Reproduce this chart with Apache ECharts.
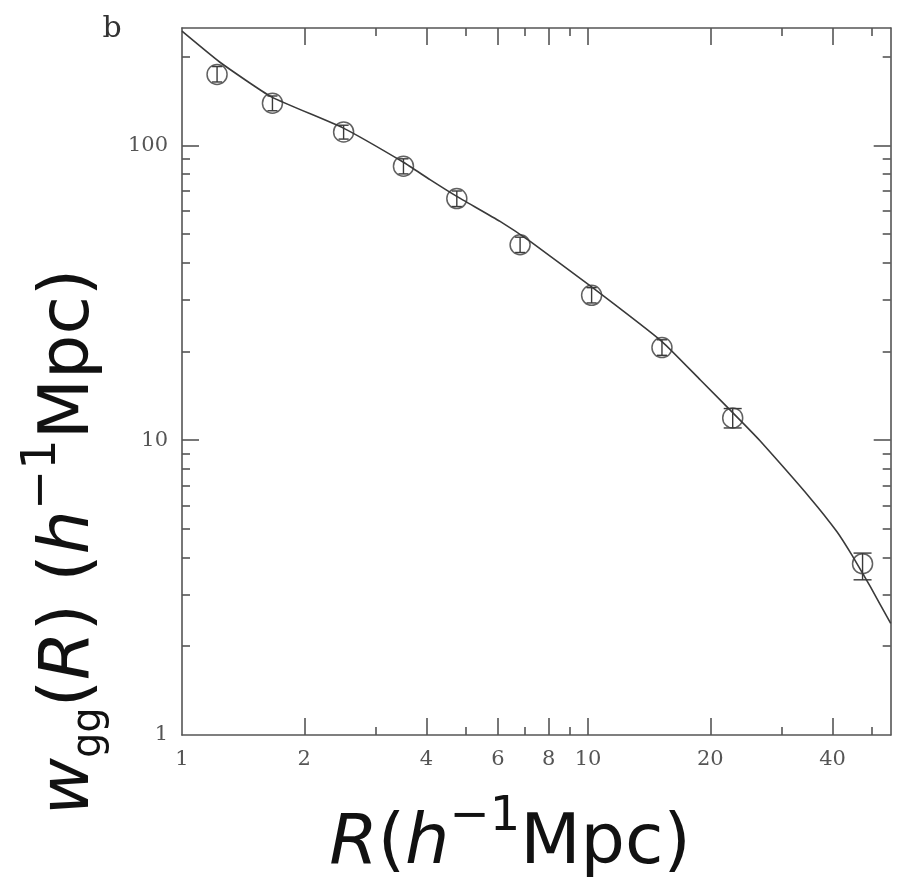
<!DOCTYPE html>
<html>
<head>
<meta charset="utf-8">
<script src="https://cdn.jsdelivr.net/npm/echarts@6/dist/echarts.min.js"></script>
<style>
  html, body { margin: 0; padding: 0; background: #fff; }
  #chart { width: 899px; height: 885px; }
</style>
</head>
<body>
<div id="chart"></div>
<script>
// Projected galaxy correlation function w_gg(R): measurements with errors and the model curve

// Measured points
const rObs  = [1.22, 1.67, 2.50, 3.51, 4.75, 6.80, 10.2, 15.2, 22.7, 47.4];
const wObs  = [174, 139, 111, 85, 66, 46, 31, 20.6, 11.9, 3.81];
const wLow  = [164, 131, 105, 80, 62, 43.3, 29.2, 19.4, 11.0, 3.36];
const wHigh = [185, 147, 117, 90, 70, 48.8, 32.9, 21.9, 12.8, 4.14];

// Model curve
const rModel = [1.0, 1.24, 1.66, 2.49, 3.51, 4.08, 4.75, 6.07, 7.20, 10.2, 15.2, 18.9, 24.1, 26.5, 35.2, 41.0, 44.6, 49.5, 55.6];
const wModel = [243.8, 191.3, 146.0, 114.6, 87.6, 76.5, 67.1, 55.2, 47.2, 33.1, 21.6, 16.0, 11.4, 9.95, 6.37, 4.89, 4.08, 3.19, 2.39];

// Axis ranges, ticks and tick labels
const xRange = [1, 55.6];
const yRange = [1, 250];
const xMajorTicks = [2, 4, 6, 8, 10, 20, 40];
const xMinorTicks = [3, 5, 7, 9, 30, 50];
const xTickLabels = [1, 2, 4, 6, 8, 10, 20, 40];
const yMajorTicks = [10, 100];
const yMinorTicks = [2, 3, 4, 5, 6, 7, 8, 9, 20, 30, 40, 50, 60, 70, 80, 90, 200];
const yTickLabels = [1, 10, 100];

const INK = '#3a3a3a';
const FRAME = '#555';
const labelFont = { fontFamily: 'DejaVu Serif', fontSize: 21, color: '#555' };

function logAxis(range, position, ticks, tickLen, labels, showLine) {
  return {
    type: 'log',
    logBase: 10,
    min: range[0],
    max: range[1],
    position: position,
    axisLine: { show: showLine, onZero: false, lineStyle: { color: FRAME, width: 1.6 } },
    axisTick: { show: true, inside: true, length: tickLen, customValues: ticks,
                lineStyle: { color: FRAME, width: 1.6 } },
    axisLabel: labels
      ? Object.assign({ show: true, customValues: labels, margin: 14, hideOverlap: false }, labelFont)
      : { show: false },
    splitLine: { show: false },
    minorTick: { show: false },
    minorSplitLine: { show: false }
  };
}

const chart = echarts.init(document.getElementById('chart'), null, { renderer: 'canvas' });

const titleRich = {
  i:   { fontFamily: 'DejaVu Sans', fontStyle: 'italic', fontSize: 70, fill: '#111' },
  n:   { fontFamily: 'DejaVu Sans', fontSize: 70, fill: '#111' },
  sup: { fontFamily: 'DejaVu Sans', fontSize: 48, fill: '#111', padding: [0, 0, 54, 0] },
  sub: { fontFamily: 'DejaVu Sans', fontSize: 40, fill: '#111', padding: [40, 0, 0, 0] }
};

chart.setOption({
  animation: false,
  backgroundColor: '#fff',
  grid: { left: 182, top: 28, right: 8.3, bottom: 150, containLabel: false },
  xAxis: [
    logAxis(xRange, 'bottom', xMajorTicks, 17, xTickLabels, true),
    logAxis(xRange, 'bottom', xMinorTicks, 8, null, false),
    logAxis(xRange, 'top', xMajorTicks, 17, null, true),
    logAxis(xRange, 'top', xMinorTicks, 8, null, false)
  ],
  yAxis: [
    logAxis(yRange, 'left', yMajorTicks, 17, yTickLabels, true),
    logAxis(yRange, 'left', yMinorTicks, 8, null, false),
    logAxis(yRange, 'right', yMajorTicks, 17, null, true),
    logAxis(yRange, 'right', yMinorTicks, 8, null, false)
  ],
  series: [
    {
      type: 'line',
      xAxisIndex: 0, yAxisIndex: 0,
      data: rModel.map((r, i) => [r, wModel[i]]),
      smooth: 0.15,
      showSymbol: false,
      lineStyle: { color: INK, width: 1.6 },
      z: 2
    },
    {
      type: 'scatter',
      xAxisIndex: 0, yAxisIndex: 0,
      data: rObs.map((r, i) => [r, wObs[i]]),
      symbol: 'circle',
      symbolSize: 20,
      itemStyle: { color: 'rgba(0,0,0,0)', borderColor: INK, borderWidth: 1.5 },
      z: 3
    },
    {
      type: 'custom',
      xAxisIndex: 0, yAxisIndex: 0,
      data: rObs.map((r, i) => [r, wLow[i], wHigh[i]]),
      encode: { x: 0, y: [1, 2] },
      renderItem: function (params, api) {
        const x = api.value(0);
        const lo = api.coord([x, api.value(1)]);
        const hi = api.coord([x, api.value(2)]);
        const halfLen = (lo[1] - hi[1]) / 2;
        const cap = halfLen > 9 ? 9 : 5;
        const style = { stroke: INK, lineWidth: 1.4 };
        return {
          type: 'group',
          children: [
            { type: 'line', shape: { x1: lo[0], y1: lo[1], x2: hi[0], y2: hi[1] }, style: style },
            { type: 'line', shape: { x1: lo[0] - cap, y1: lo[1], x2: lo[0] + cap, y2: lo[1] }, style: style },
            { type: 'line', shape: { x1: hi[0] - cap, y1: hi[1], x2: hi[0] + cap, y2: hi[1] }, style: style }
          ]
        };
      },
      z: 4
    }
  ],
  graphic: [
    {
      type: 'text', x: 112, y: 29,
      style: { text: 'b', fontFamily: 'DejaVu Serif', fontSize: 30, fill: '#333',
               align: 'center', verticalAlign: 'middle' }
    },
    {
      type: 'text', x: 510, y: 845,
      style: {
        text: '{i|R}{n|(}{i|h}{sup|\u22121}{n|Mpc)}',
        rich: titleRich, align: 'center', verticalAlign: 'middle'
      }
    },
    {
      type: 'text', x: 70, y: 542, rotation: Math.PI / 2,
      style: {
        text: '{i|w}{sub|gg}{n|(}{i|R}{n|) (}{i|h}{sup|\u22121}{n|Mpc)}',
        rich: titleRich, align: 'center', verticalAlign: 'middle'
      }
    }
  ]
});
</script>
</body>
</html>
